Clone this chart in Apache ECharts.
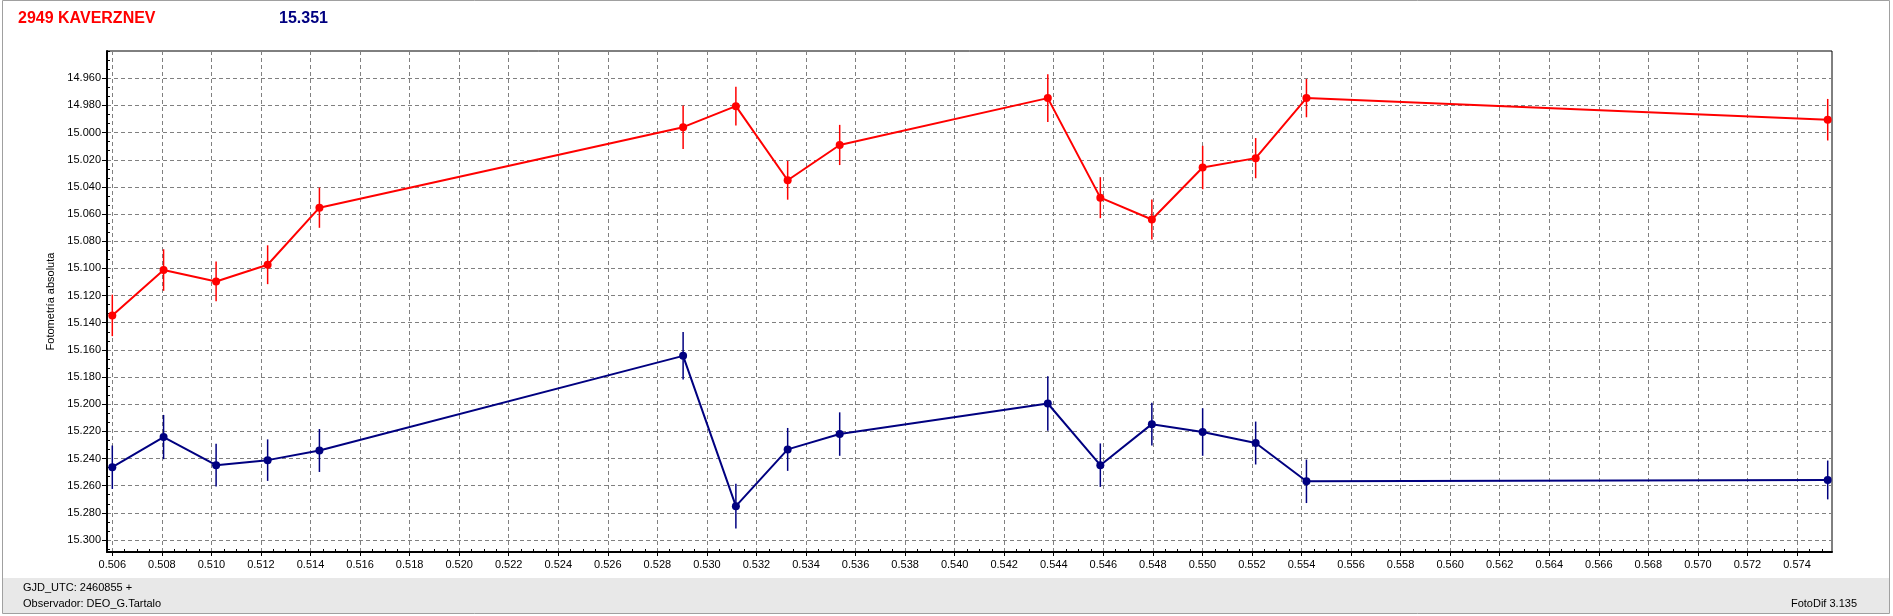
<!DOCTYPE html>
<html>
<head>
<meta charset="utf-8">
<script src="https://cdn.jsdelivr.net/npm/echarts@6/dist/echarts.min.js"></script>
<style>
html,body{margin:0;padding:0;background:#fff;}
#chart{width:1893px;height:616px;}
</style>
</head>
<body>
<div id="chart"></div>
<script>
// ---- data ----
const times = [0.50600, 0.50807, 0.51019, 0.51227, 0.51436, 0.52904, 0.53117, 0.53326,
               0.53536, 0.54376, 0.54588, 0.54796, 0.55001, 0.55215, 0.55420, 0.57524];
const varMag = [15.1346, 15.1012, 15.1096, 15.0973, 15.0553, 14.9960, 14.9805, 15.0351,
                15.0091, 14.9746, 15.0479, 15.0640, 15.0257, 15.0188, 14.9746, 14.9905];
const varErr = [0.0153, 0.0153, 0.0146, 0.0143, 0.0148, 0.0160, 0.0143, 0.0143,
                0.0148, 0.0175, 0.0151, 0.0148, 0.0160, 0.0148, 0.0141, 0.0153];
const cmpMag = [15.2464, 15.2242, 15.2449, 15.2412, 15.2341, 15.1644, 15.2751, 15.2333,
                15.2220, 15.1995, 15.2449, 15.2147, 15.2205, 15.2286, 15.2568, 15.2558];
const cmpErr = [0.0160, 0.0163, 0.0158, 0.0153, 0.0158, 0.0175, 0.0165, 0.0158,
                0.0160, 0.0200, 0.0160, 0.0158, 0.0175, 0.0158, 0.0160, 0.0143];
const xTickValues = [0.506, 0.508, 0.510, 0.512, 0.514, 0.516, 0.518, 0.520, 0.522, 0.524,
                     0.526, 0.528, 0.530, 0.532, 0.534, 0.536, 0.538, 0.540, 0.542, 0.544,
                     0.546, 0.548, 0.550, 0.552, 0.554, 0.556, 0.558, 0.560, 0.562, 0.564,
                     0.566, 0.568, 0.570, 0.572, 0.574];
const yTickValues = [14.96, 14.98, 15.00, 15.02, 15.04, 15.06, 15.08, 15.10, 15.12, 15.14,
                     15.16, 15.18, 15.20, 15.22, 15.24, 15.26, 15.28, 15.30];
const titleName = '2949 KAVERZNEV';
const titleMag = '15.351';
const yAxisName = 'Fotometría absoluta';
const footerLines = ['GJD_UTC: 2460855 +', 'Observador: DEO_G.Tartalo'];
const footerRight = 'FotoDif 3.135';

// ---- axes extent ----
const X_MIN = 0.505786, X_MAX = 0.575413;
const Y_MIN = 14.9399, Y_MAX = 15.30885;

const RED = '#ff0000', NAVY = '#000080';
const FONT = '"Liberation Sans", Arial, sans-serif';

function minorValues(start, step, count, majors, lo, hi) {
  const out = [];
  for (let i = 0; i < count; i++) {
    const v = +(start + i * step).toFixed(6);
    if (v < lo || v > hi) continue;
    if (majors.some(m => Math.abs(m - v) < step / 10)) continue;
    out.push(v);
  }
  return out;
}
const xMinor = minorValues(0.5055, 0.0005, 160, xTickValues, X_MIN, X_MAX);
const yMinor = minorValues(14.94, 0.02 / 3, 60, yTickValues, Y_MIN, Y_MAX);

const pts = (mags) => times.map((t, i) => [t, mags[i]]);
const errPts = (mags, errs) => times.map((t, i) => [t, mags[i], errs[i]]);

function errRender(color) {
  return function (params, api) {
    const x = api.value(0), y = api.value(1), e = api.value(2);
    const p1 = api.coord([x, y - e]);
    const p2 = api.coord([x, y + e]);
    return {
      type: 'line',
      shape: { x1: p1[0], y1: p1[1], x2: p2[0], y2: p2[1] },
      style: { stroke: color, lineWidth: 1.5 }
    };
  };
}

const gridRect = { left: 107, top: 51, width: 1725, height: 501 };

const chart = echarts.init(document.getElementById('chart'), null, { renderer: 'canvas' });
chart.setOption({
  animation: false,
  backgroundColor: '#ffffff',
  textStyle: { fontFamily: FONT },
  title: [
    { text: titleName, left: 18, top: 11, padding: 0,
      textStyle: { color: RED, fontSize: 16, fontWeight: 'bold', fontFamily: FONT } },
    { text: titleMag, left: 279, top: 11, padding: 0,
      textStyle: { color: NAVY, fontSize: 16, fontWeight: 'bold', fontFamily: FONT } }
  ],
  graphic: [
    { type: 'rect', silent: true, z: -10,
      shape: { x: 2.5, y: 0.5, width: 1887, height: 613 },
      style: { fill: '#ffffff', stroke: '#a0a0a0', lineWidth: 1 } },
    { type: 'rect', silent: true, z: -9,
      shape: { x: 3, y: 578, width: 1886, height: 35 },
      style: { fill: '#e8e8e8' } },
    { type: 'text', silent: true,
      style: { x: 23, y: 588, text: footerLines[0], font: '11px ' + FONT, fill: '#000',
               align: 'left', verticalAlign: 'middle' } },
    { type: 'text', silent: true,
      style: { x: 23, y: 604, text: footerLines[1], font: '11px ' + FONT, fill: '#000',
               align: 'left', verticalAlign: 'middle' } },
    { type: 'text', silent: true,
      style: { x: 1857, y: 604, text: footerRight, font: '11px ' + FONT, fill: '#000',
               align: 'right', verticalAlign: 'middle' } }
  ],
  grid: [
    Object.assign({ show: true, borderColor: '#000', borderWidth: 1, backgroundColor: '#fff',
                    outerBoundsMode: 'none', containLabel: false }, gridRect),
    Object.assign({ show: false, outerBoundsMode: 'none', containLabel: false }, gridRect)
  ],
  xAxis: [
    { type: 'value', gridIndex: 0, min: X_MIN, max: X_MAX, position: 'bottom',
      axisLine: { show: true, onZero: false, lineStyle: { color: '#000', width: 2 } },
      axisTick: { show: true, inside: false, length: 4, lineStyle: { color: '#000' },
                  customValues: xTickValues },
      axisLabel: { show: true, customValues: xTickValues, margin: 7, color: '#000',
                   fontSize: 11, fontFamily: FONT, formatter: v => v.toFixed(3) },
      splitLine: { show: true, lineStyle: { color: '#808080', type: [4, 3], width: 1 } },
      minorTick: { show: false }
    },
    { type: 'value', gridIndex: 1, min: X_MIN, max: X_MAX, position: 'bottom',
      axisLine: { show: false, onZero: false },
      axisTick: { show: true, inside: true, length: 3, lineStyle: { color: '#000' },
                  customValues: xMinor },
      axisLabel: { show: false },
      splitLine: { show: false }
    }
  ],
  yAxis: [
    { type: 'value', gridIndex: 0, min: Y_MIN, max: Y_MAX, inverse: true, position: 'left',
      name: yAxisName, nameLocation: 'middle', nameRotate: 90, nameGap: 45,
      nameTextStyle: { color: '#000', fontSize: 11, fontFamily: FONT },
      axisLine: { show: true, onZero: false, lineStyle: { color: '#000', width: 2 } },
      axisTick: { show: true, inside: false, length: 5, lineStyle: { color: '#000' },
                  customValues: yTickValues },
      axisLabel: { show: true, customValues: yTickValues, margin: 6, color: '#000',
                   fontSize: 11, fontFamily: FONT, formatter: v => v.toFixed(3) },
      splitLine: { show: true, lineStyle: { color: '#808080', type: [4, 3], width: 1 } }
    },
    { type: 'value', gridIndex: 1, min: Y_MIN, max: Y_MAX, inverse: true, position: 'left',
      axisLine: { show: false, onZero: false },
      axisTick: { show: true, inside: true, length: 3, lineStyle: { color: '#000' },
                  customValues: yMinor },
      axisLabel: { show: false },
      splitLine: { show: false }
    }
  ],
  series: [
    { name: 'var', type: 'line', xAxisIndex: 0, yAxisIndex: 0, data: pts(varMag),
      symbol: 'circle', symbolSize: 8, showSymbol: true,
      itemStyle: { color: RED }, lineStyle: { color: RED, width: 2 }, z: 3 },
    { name: 'varErr', type: 'custom', xAxisIndex: 0, yAxisIndex: 0,
      data: errPts(varMag, varErr), renderItem: errRender(RED),
      encode: { x: 0, y: 1 }, z: 4 },
    { name: 'cmp', type: 'line', xAxisIndex: 0, yAxisIndex: 0, data: pts(cmpMag),
      symbol: 'circle', symbolSize: 8, showSymbol: true,
      itemStyle: { color: NAVY }, lineStyle: { color: NAVY, width: 2 }, z: 3 },
    { name: 'cmpErr', type: 'custom', xAxisIndex: 0, yAxisIndex: 0,
      data: errPts(cmpMag, cmpErr), renderItem: errRender(NAVY),
      encode: { x: 0, y: 1 }, z: 4 }
  ]
});
</script>
</body>
</html>
